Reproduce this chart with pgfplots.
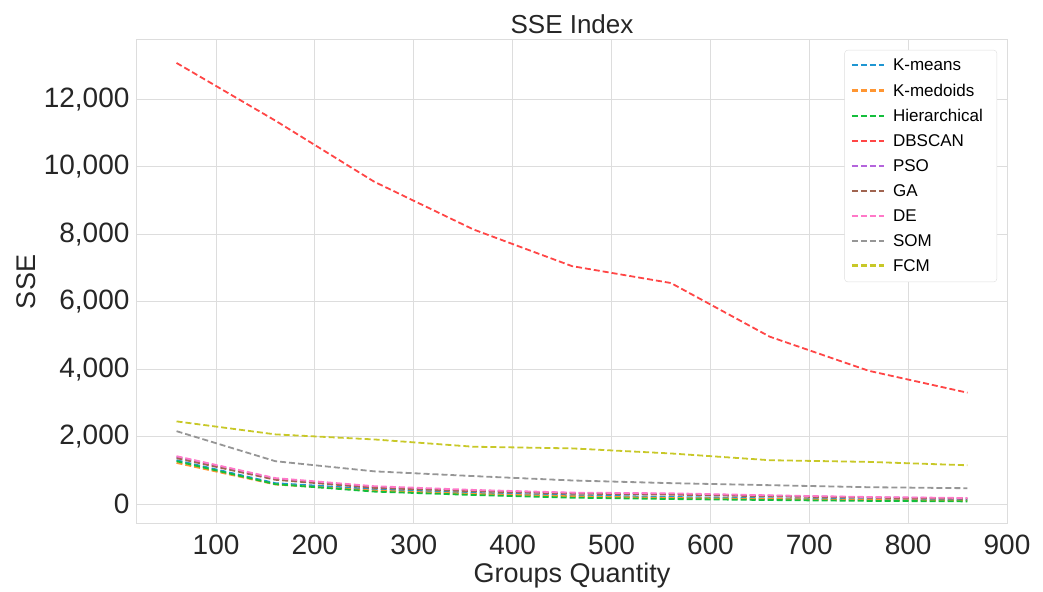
\documentclass[border=0pt]{standalone}
\usepackage{fontspec}
\setmainfont{Liberation Sans}
\usepackage{pgfplots}
\pgfplotsset{compat=1.18}

\definecolor{ckmeans}{RGB}{31,150,210}
\definecolor{ckmedoids}{RGB}{255,150,50}
\definecolor{chier}{RGB}{20,190,60}
\definecolor{cdbscan}{RGB}{255,70,70}
\definecolor{cpso}{RGB}{180,100,220}
\definecolor{cga}{RGB}{160,100,80}
\definecolor{cde}{RGB}{255,120,200}
\definecolor{csom}{RGB}{150,150,150}
\definecolor{cfcm}{RGB}{200,200,40}
\definecolor{gridc}{RGB}{221,221,221}

\begin{document}
\begin{tikzpicture}
\begin{axis}[
    scale only axis,
    width=870pt, height=484pt,
    xmin=20, xmax=900,
    ymin=-590, ymax=13750,
    xtick={100,200,...,900},
    ytick={0,2000,...,12000},
    grid=major,
    major grid style={gridc, line width=1pt},
    axis line style={gridc, line width=1pt},
    tick style={draw=none},
    /pgf/number format/assume math mode=true,
    /pgf/number format/1000 sep={,},
    scaled y ticks=false,
    ticklabel style={font=\fontsize{28}{30}\selectfont, text=black!85},
    xticklabel style={yshift=-7pt},
    yticklabel style={xshift=-4pt},
    title={SSE Index},
    title style={font=\fontsize{26}{28}\selectfont, text=black!85, yshift=-3pt},
    xlabel={Groups Quantity},
    ylabel={SSE},
    label style={font=\fontsize{27}{30}\selectfont, text=black!85},
    xlabel style={yshift=-2pt},
    ylabel style={yshift=1pt},
    every axis plot/.append style={line width=1.8pt, dash pattern=on 6pt off 3pt},
    legend cell align=left,
    legend style={at={(1,1)}, xshift=-10pt, yshift=-10pt, anchor=north east,
      font=\fontsize{17}{20}\selectfont, draw=gridc, rounded corners=3pt,
      row sep=7.6pt, inner xsep=6pt, inner ysep=7pt,
      nodes={inner xsep=8pt}},
    legend image code/.code={\draw[#1, line width=2.4pt] (0pt,0.5pt) -- (32pt,0.5pt);},
    ]
\addplot[color=ckmeans] coordinates {(60,1300) (160,620) (260,440) (360,330) (460,260) (560,210) (660,170) (760,140) (860,120)};
\addlegendentry{K-means}
\addplot[color=ckmedoids] coordinates {(60,1220) (160,580) (260,400) (360,300) (460,230) (560,180) (660,150) (760,120) (860,100)};
\addlegendentry{K-medoids}
\addplot[color=chier] coordinates {(60,1270) (160,590) (260,370) (360,270) (460,190) (560,150) (660,120) (760,95) (860,80)};
\addlegendentry{Hierarchical}
\addplot[color=cdbscan] coordinates {(60,13070) (160,11360) (260,9550) (360,8140) (460,7050) (560,6550) (660,4960) (760,3950) (860,3300)};
\addlegendentry{DBSCAN}
\addplot[color=cpso] coordinates {(60,1400) (160,740) (260,500) (360,400) (460,330) (560,300) (660,250) (760,200) (860,170)};
\addlegendentry{PSO}
\addplot[color=cga] coordinates {(60,1360) (160,720) (260,480) (360,380) (460,310) (560,280) (660,230) (760,190) (860,160)};
\addlegendentry{GA}
\addplot[color=cde] coordinates {(60,1420) (160,770) (260,530) (360,420) (460,340) (560,320) (660,260) (760,210) (860,180)};
\addlegendentry{DE}
\addplot[color=csom] coordinates {(60,2160) (160,1270) (260,970) (360,830) (460,700) (560,620) (660,560) (760,500) (860,470)};
\addlegendentry{SOM}
\addplot[color=cfcm] coordinates {(60,2450) (160,2065) (260,1915) (360,1700) (460,1650) (560,1500) (660,1300) (760,1250) (860,1150)};
\addlegendentry{FCM}
\end{axis}
\path[use as bounding box] (current axis.south west) ++(-137pt,-62pt) rectangle ++(1043pt,586pt);
\end{tikzpicture}
\end{document}
